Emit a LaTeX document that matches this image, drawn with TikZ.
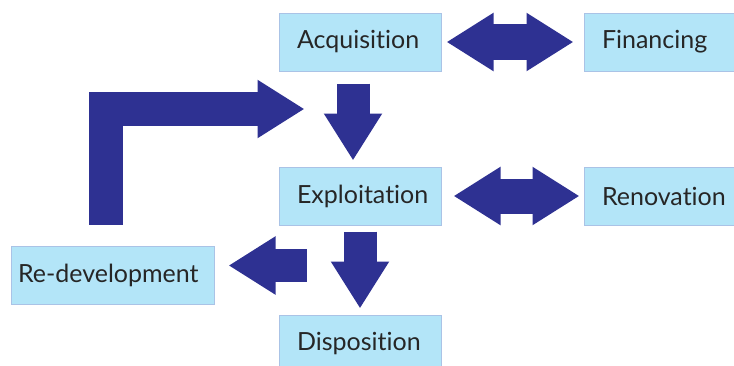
\documentclass[tikz,border=0pt]{standalone}
\usepackage{fontspec}
\setsansfont{Lato}[Ligatures={NoCommon}]
\usetikzlibrary{arrows.meta,positioning}

\definecolor{boxfill}{RGB}{179,229,248}
\definecolor{boxline}{RGB}{170,195,230}
\definecolor{arrowblue}{RGB}{46,49,146}

\begin{document}
\begin{tikzpicture}[x=1pt,y=-1pt,
                    box node/.style={rectangle,draw=boxline,fill=boxfill,line width=1pt,
                      minimum height=58pt,minimum width=162pt,inner xsep=18pt,text width=126pt,align=left,
                      font=\sffamily\fontsize{25}{30}\selectfont,text=black!85},
                    block arrow/.style={draw=arrowblue,line width=#1},
                    block arrow/.default=34pt,
                    big tip/.tip={Triangle[width=55pt,length=47pt]}]
  \useasboundingbox (0,0) rectangle (734,365);
  \node[box node] (1) at (360,42) {Acquisition};
  \node[box node] (2) [right=142pt of 1] {Financing};
  \node[box node] (3) [below=95pt of 1] {Exploitation};
  \node[box node] (4) [right=142pt of 3] {Renovation};
  \node[box node] (5) [below=89pt of 3] {Disposition};
  \node[box node,inner xsep=7pt,text width=189pt,minimum width=203pt] (6) at (112.5,275) {Re-development};
  % two-way arrows
  \draw[block arrow=36pt,big tip-big tip] ([xshift=5pt]1.east) -- ([xshift=-10pt]2.west);
  \draw[block arrow=35pt,big tip-big tip] ([xshift=12pt]3.east) -- ([xshift=-4pt]4.west);
  % main flow
  \draw[block arrow=33pt,-big tip] ([xshift=-7pt,yshift=-12pt]1.south) -- ([xshift=-7pt,yshift=6pt]3.north);
  \draw[block arrow=33pt,-big tip] ([yshift=-6pt]3.south) -- ([yshift=6pt]5.north);
  \draw[block arrow=33pt,-big tip] ([xshift=92pt,yshift=9.5pt]6.east) -- ([xshift=14pt,yshift=9.5pt]6.east);
  \draw[block arrow,-big tip] ([xshift=-6.5pt,yshift=21pt]6.north) |- ([xshift=26pt,yshift=-67pt]1.west);
\end{tikzpicture}
\end{document}
